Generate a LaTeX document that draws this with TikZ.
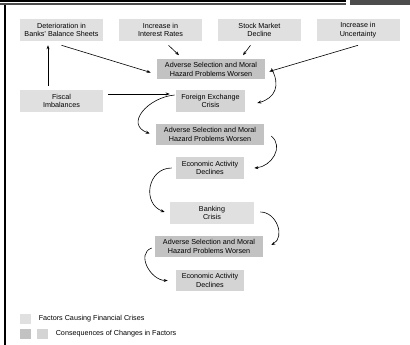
\documentclass[tikz,border=0pt]{standalone}
\usepackage{fontspec}
\setmainfont{Liberation Sans}
\usepackage{tikz}
\usetikzlibrary{positioning, arrows.meta, shapes}

\definecolor{factorgray}{HTML}{E0E0E0}
\definecolor{worsegray}{HTML}{C2C2C2}
\definecolor{crisisgray}{HTML}{D4D4D4}

\begin{document}
\begin{tikzpicture}
        [x=1pt, y=1pt,
         box/.style={rectangle, inner sep=0pt, align=center,
                     font=\fontsize{7.2}{8.5}\selectfont},
         factor/.style={box, fill=factorgray, minimum width=83, minimum height=22},
         worsen/.style={box, fill=worsegray, minimum width=108, minimum height=20},
         crisis/.style={box, fill=crisisgray, minimum width=68, minimum height=22},
         swatch/.style={rectangle, inner sep=0pt, minimum width=11, minimum height=10},
         legend/.style={anchor=west, inner sep=0pt, font=\fontsize{7.2}{8.5}\selectfont},
         line width=0.6pt, >={Stealth[length=4pt, width=3pt]}]
        \useasboundingbox (0,0) rectangle (410,345);
        \fill[black] (0,345) rectangle (346,342.5);
        \fill[black!70] (0,341.5) rectangle (346,340);
        \fill[black!70] (350,345) rectangle (410,340);
        \fill[black] (4,340) rectangle (5.5,0);

        \node[factor] (det) at (61.5,315) {Deterioration in\\Banks' Balance Sheets};
        \node[factor] (rate) at (160.5,315) {Increase in\\Interest Rates};
        \node[factor] (stock) at (259.5,315) {Stock Market\\Decline};
        \node[factor] (unc) at (358,315) {Increase in\\Uncertainty};
        \node[worsen] (adv1) at (211,275.5) {Adverse Selection and Moral\\Hazard Problems Worsen};
        \node[factor] (fisc) at (61.5,244) {Fiscal\\Imbalances};
        \node[crisis, minimum width=69] (fx) at (210.5,244) {Foreign Exchange\\Crisis};
        \node[worsen, minimum height=21] (adv2) at (210,210.5) {Adverse Selection and Moral\\Hazard Problems Worsen};
        \node[crisis] (econ1) at (210,177) {Economic Activity\\Declines};
        \node[factor, minimum width=84] (bank) at (212,132) {Banking\\Crisis};
        \node[worsen, minimum height=21] (adv3) at (209,98.5) {Adverse Selection and Moral\\Hazard Problems Worsen};
        \node[crisis, minimum height=21] (econ2) at (210,64.5) {Economic Activity\\Declines};

        \node[swatch, fill=factorgray] (keyf) at (25.5,26) {};
        \node[legend] (keyftext) at (38.5,26) {Factors Causing Financial Crises};
        \node[swatch, fill=worsegray] (keyw) at (25.5,11) {};
        \node[swatch, fill=crisisgray] (keyc) at (42.5,11) {};
        \node[legend] (keyctext) at (55.5,11) {Consequences of Changes in Factors};

        \path [->] ([yshift=-4]det.south) edge ([xshift=-6,yshift=-3]adv1.west);
        \path [->] ([xshift=8,yshift=-4]rate.south) edge ([xshift=-32,yshift=4]adv1.north);
        \path [->] ([xshift=-9,yshift=-4]stock.south) edge ([xshift=32,yshift=4]adv1.north);
        \path [->] ([yshift=-4]unc.south) edge ([xshift=4,yshift=-2]adv1.east);
        \path [->] ([xshift=-13.5,yshift=4]fisc.north) edge ([xshift=-13.5,yshift=-4]det.south);
        \path [->] ([xshift=5,yshift=7]fisc.east) edge ([xshift=-6,yshift=7]fx.west);
        \path [->] ([xshift=6,yshift=1]adv1.east) edge[out=-60, in=15, looseness=1.3] ([xshift=12,yshift=-2]fx.east);
        \path [->] ([xshift=-1,yshift=6]fx.west) edge[out=185, in=160, looseness=1.5] ([xshift=-6,yshift=1]adv2.west);
        \path [->] ([xshift=7,yshift=-1.5]adv2.east) edge[out=-40, in=5, looseness=1.2] ([xshift=10]econ1.east);
        \path [->] ([xshift=-4]econ1.west) edge[out=180, in=160, looseness=1.4] ([xshift=-5,yshift=1]bank.west);
        \path [->] ([xshift=6,yshift=1]bank.east) edge[out=0, in=30, looseness=1.2] ([xshift=8,yshift=1.5]adv3.east);
        \path [->] ([xshift=-3,yshift=-1.5]adv3.west) edge[out=200, in=180, looseness=1.2] ([xshift=-8]econ2.west);
    \end{tikzpicture}
\end{document}
